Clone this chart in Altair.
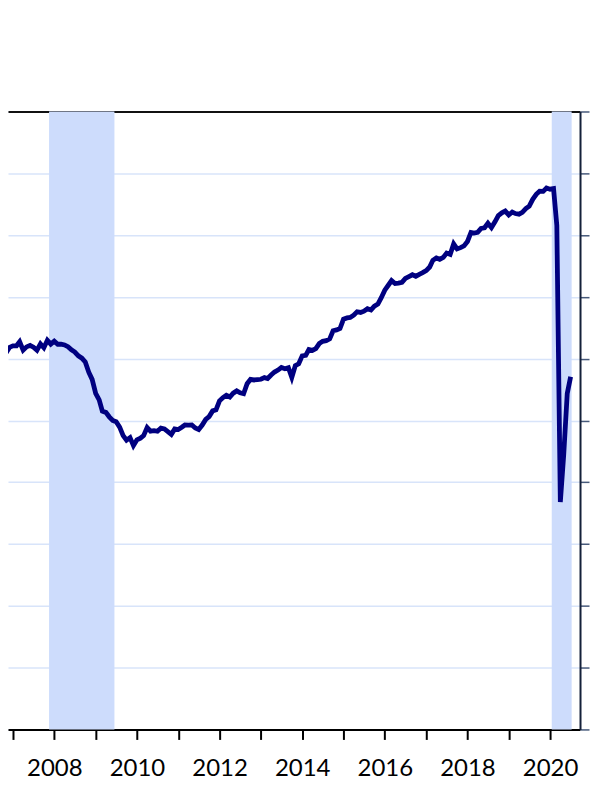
import altair as alt
import pandas as pd

# Civilian employment level, millions, monthly from Sep 2006
start_month = "2006-09-01"
emp_2006 = [144.797, 145.292, 145.477, 145.914]
emp_2007 = [146.032, 146.043, 146.368, 145.686, 145.952, 146.079, 145.926, 145.685, 146.193, 145.885, 146.483, 146.173]
emp_2008 = [146.421, 146.165, 146.173, 146.111, 145.964, 145.711, 145.538, 145.230, 145.044, 144.727, 143.908, 143.320]
emp_2009 = [142.187, 141.660, 140.754, 140.654, 140.294, 140.003, 139.891, 139.458, 138.775, 138.401, 138.607, 137.968]
emp_2010 = [138.432, 138.567, 138.773, 139.433, 139.138, 139.171, 139.124, 139.377, 139.316, 139.101, 138.874, 139.311]
emp_2011 = [139.266, 139.447, 139.634, 139.616, 139.639, 139.394, 139.263, 139.628, 140.085, 140.312, 140.774, 140.854]
emp_2012 = [141.584, 141.858, 142.036, 141.899, 142.206, 142.391, 142.238, 142.164, 142.974, 143.328, 143.277, 143.305]
emp_2013 = [143.333, 143.464, 143.393, 143.676, 143.919, 144.075, 144.285, 144.179, 144.270, 143.485, 144.443, 144.586]
emp_2014 = [145.224, 145.266, 145.742, 145.669, 145.814, 146.221, 146.401, 146.451, 146.607, 147.260, 147.331, 147.442]
emp_2015 = [148.201, 148.297, 148.331, 148.523, 148.795, 148.739, 148.840, 149.043, 148.942, 149.251, 149.413, 149.929]
emp_2016 = [150.544, 150.940, 151.322, 151.081, 151.107, 151.174, 151.492, 151.637, 151.787, 151.665, 151.825, 151.958]
emp_2017 = [152.128, 152.417, 152.958, 153.150, 153.039, 153.193, 153.545, 153.432, 154.285, 153.880, 153.985, 154.121]
emp_2018 = [154.482, 155.213, 155.160, 155.216, 155.539, 155.592, 155.964, 155.604, 156.069, 156.582, 156.803, 156.945]
emp_2019 = [156.627, 156.866, 156.741, 156.695, 156.844, 157.148, 157.346, 157.895, 158.298, 158.544, 158.536, 158.803]
emp_2020 = [158.714, 158.759, 155.772, 133.403, 137.242, 142.182, 143.532]

recession_start = ["2007-11-16", "2020-01-16"]
recession_end = ["2009-06-16", "2020-07-10"]

y_ticks = [115, 120, 125, 130, 135, 140, 145, 150, 155, 160, 165]

employment = (emp_2006 + emp_2007 + emp_2008 + emp_2009 + emp_2010 + emp_2011 + emp_2012
              + emp_2013 + emp_2014 + emp_2015 + emp_2016 + emp_2017 + emp_2018 + emp_2019 + emp_2020)
dates = pd.date_range(start_month, periods=len(employment), freq="MS")
df = pd.DataFrame({"date": dates.strftime("%Y-%m-%d"), "value": employment})
rec = pd.DataFrame({"start": recession_start, "end": recession_end})

W, H = 573, 619
xscale = alt.Scale(domain=[alt.DateTime(year=2006, month=11, date=18),
                           alt.DateTime(year=2020, month=9, date=22)])
yscale = alt.Scale(domain=[115, 165], nice=False, zero=False)

shade = alt.Chart(rec).mark_rect(color="#cddcfc").encode(
    x=alt.X("start:T", scale=xscale,
            axis=alt.Axis(orient="top", domain=True, domainColor="#111111", domainWidth=2,
                          ticks=False, labels=False, grid=False, title=None)),
    x2="end:T",
)

line = alt.Chart(df).mark_line(color="#000080", strokeWidth=4.8, clip=True).encode(
    x=alt.X("date:T", scale=xscale,
            axis=alt.Axis(orient="bottom", title=None, grid=False,
                          tickCount={"interval": "year", "step": 1}, format="%Y",
                          labelExpr="year(datum.value) % 2 == 0 ? datum.label : ''",
                          labelOverlap=False, labelFlush=False, labelBound=False,
                          labelFont="Lato", labelFontSize=24, labelColor="#000000",
                          labelBaseline="alphabetic", labelPadding=36,
                          domainColor="#000000", domainWidth=2,
                          tickColor="#000000", tickWidth=2, tickSize=10)),
    y=alt.Y("value:Q", scale=yscale,
            axis=alt.Axis(orient="right", title=None, values=y_ticks, labels=False,
                          domainColor="#14203a", domainWidth=2,
                          tickColor="#46597a", tickWidth=1.5, tickSize=9,
                          grid=True, gridColor="#d8e4fa", gridWidth=1.5)),
)

chart = (
    alt.layer(shade, line)
    .resolve_axis(x="independent")
    .properties(width=W, height=H,
                padding={"left": 0, "top": 102, "right": 0, "bottom": 5},
                background="white")
    .configure_view(stroke=None)
)

chart.save("out.html", embed_options={"renderer": "svg", "actions": False})
